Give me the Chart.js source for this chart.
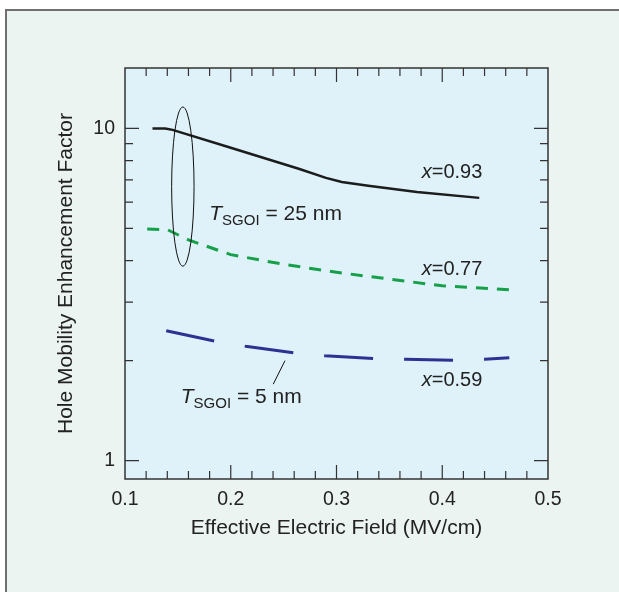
<!DOCTYPE html>
<html lang="en">
<head>
    <meta charset="UTF-8">
    <title>Hole Mobility Enhancement Factor</title>
    <script src="https://cdn.jsdelivr.net/npm/chart.js"></script>
    <style>
        body {
            margin: 0;
            background-color: #ffffff;
        }
        canvas {
            display: block;
        }
    </style>
</head>
<body>
    <canvas id="chartCanvas" width="619" height="592"></canvas>

    <script>
        // x = 0.93, T_SGOI = 25 nm
        const field093 = [0.126, 0.138, 0.145, 0.2, 0.265, 0.29, 0.305, 0.33, 0.376, 0.435];
        const factor093 = [10, 10, 9.9, 8.75, 7.55, 7.1, 6.9, 6.72, 6.44, 6.18];
        // x = 0.77
        const field077 = [0.121, 0.14, 0.16, 0.2, 0.25, 0.3, 0.35, 0.4, 0.47];
        const factor077 = [4.98, 4.96, 4.62, 4.17, 3.9, 3.69, 3.52, 3.36, 3.26];
        // x = 0.59, T_SGOI = 5 nm
        const field059 = [0.139, 0.185, 0.214, 0.26, 0.289, 0.3355, 0.365, 0.411, 0.44, 0.4634];
        const factor059 = [2.46, 2.29, 2.21, 2.11, 2.07, 2.03, 2.02, 2.007, 2.02, 2.04];

        const xTicks = [0.1, 0.2, 0.3, 0.4, 0.5];
        const yTicks = [1, 10];
        const yMinorTicks = [2, 3, 4, 5, 6, 7, 8, 9];

        const font = '"Liberation Sans", Arial, Helvetica, sans-serif';
        const ink = '#222222';

        function toPoints(xs, ys) {
            return xs.map((x, i) => ({ x: x, y: ys[i] }));
        }

        // frame, backgrounds, axis ticks and in-plot labels
        const decorations = {
            id: 'decorations',
            beforeDraw(chart) {
                const ctx = chart.ctx;
                const a = chart.chartArea;
                ctx.save();
                ctx.fillStyle = '#ffffff';
                ctx.fillRect(0, 0, chart.width, chart.height);
                ctx.fillStyle = '#ebf4f0';
                ctx.fillRect(5, 9, chart.width, chart.height);
                ctx.strokeStyle = '#707070';
                ctx.lineWidth = 2;
                ctx.beginPath();
                ctx.moveTo(6, chart.height + 5);
                ctx.lineTo(6, 10);
                ctx.lineTo(chart.width + 5, 10);
                ctx.stroke();
                ctx.fillStyle = '#dff1f9';
                ctx.fillRect(a.left, a.top, a.right - a.left, a.bottom - a.top);
                ctx.restore();
            },
            afterDatasetsDraw(chart) {
                const ctx = chart.ctx;
                const a = chart.chartArea;
                const xs = chart.scales.x;
                const ys = chart.scales.y;
                ctx.save();

                // ellipse round the 25 nm curves
                const ex = xs.getPixelForValue(0.1547);
                const eTop = ys.getPixelForValue(11.6);
                const eBot = ys.getPixelForValue(3.85);
                const erx = xs.getPixelForValue(0.1547 + 0.0106) - ex;
                ctx.strokeStyle = '#111111';
                ctx.lineWidth = 1;
                ctx.beginPath();
                ctx.ellipse(ex, (eTop + eBot) / 2, erx, (eBot - eTop) / 2, 0, 0, Math.PI * 2);
                ctx.stroke();

                // leader line to the 5 nm curve
                ctx.beginPath();
                ctx.moveTo(xs.getPixelForValue(0.2513), ys.getPixelForValue(2.0));
                ctx.lineTo(xs.getPixelForValue(0.2402), ys.getPixelForValue(1.70));
                ctx.stroke();

                // labels
                ctx.fillStyle = ink;
                ctx.textBaseline = 'alphabetic';
                function xLabel(xv, yv, text) {
                    let px = xs.getPixelForValue(xv);
                    const py = ys.getPixelForValue(yv);
                    ctx.font = 'italic 20px ' + font;
                    ctx.fillText('x', px, py);
                    px += ctx.measureText('x').width;
                    ctx.font = '20px ' + font;
                    ctx.fillText(text, px, py);
                }
                xLabel(0.3806, 7.07, '=0.93');
                xLabel(0.3806, 3.61, '=0.77');
                xLabel(0.3806, 1.675, '=0.59');

                function tLabel(xv, yv, text) {
                    let px = xs.getPixelForValue(xv);
                    const py = ys.getPixelForValue(yv);
                    ctx.font = 'italic 21px ' + font;
                    ctx.fillText('T', px, py);
                    px += ctx.measureText('T').width;
                    ctx.font = '15px ' + font;
                    ctx.fillText('SGOI', px, py + 5);
                    px += ctx.measureText('SGOI').width;
                    ctx.font = '21px ' + font;
                    ctx.fillText(text, px, py);
                }
                tLabel(0.1797, 5.29, ' = 25 nm');
                tLabel(0.1527, 1.488, ' = 5 nm');

                // plot border
                ctx.strokeStyle = '#333333';
                ctx.lineWidth = 1.5;
                ctx.strokeRect(a.left, a.top, a.right - a.left, a.bottom - a.top);

                // inward tick marks on all four sides
                ctx.lineWidth = 1.2;
                ctx.beginPath();
                for (let i = 1; i < 20; i++) {
                    const v = 0.1 + i * 0.02;
                    const px = xs.getPixelForValue(v);
                    const len = (i % 5 === 0) ? 14 : 8;
                    ctx.moveTo(px, a.bottom);
                    ctx.lineTo(px, a.bottom - len);
                    ctx.moveTo(px, a.top);
                    ctx.lineTo(px, a.top + len);
                }
                yTicks.forEach(v => {
                    const py = ys.getPixelForValue(v);
                    ctx.moveTo(a.left, py);
                    ctx.lineTo(a.left + 14, py);
                    ctx.moveTo(a.right, py);
                    ctx.lineTo(a.right - 14, py);
                });
                yMinorTicks.forEach(v => {
                    const py = ys.getPixelForValue(v);
                    ctx.moveTo(a.left, py);
                    ctx.lineTo(a.left + 8, py);
                    ctx.moveTo(a.right, py);
                    ctx.lineTo(a.right - 8, py);
                });
                ctx.stroke();
                ctx.restore();
            }
        };

        new Chart(document.getElementById('chartCanvas'), {
            type: 'scatter',
            data: {
                datasets: [
                    {
                        label: 'x=0.93',
                        data: toPoints(field093, factor093),
                        showLine: true,
                        borderColor: '#1c1c1c',
                        borderWidth: 2.5,
                        pointRadius: 0,
                        tension: 0
                    },
                    {
                        label: 'x=0.77',
                        data: toPoints(field077, factor077),
                        showLine: true,
                        borderColor: '#16a04a',
                        borderWidth: 3,
                        borderDash: [12, 9],
                        pointRadius: 0,
                        tension: 0
                    },
                    {
                        label: 'x=0.59',
                        data: toPoints(field059, factor059),
                        showLine: true,
                        borderColor: '#2e3192',
                        borderWidth: 3,
                        borderDash: [49, 31],
                        pointRadius: 0,
                        tension: 0
                    }
                ]
            },
            options: {
                responsive: false,
                animation: false,
                devicePixelRatio: 1,
                layout: { padding: { left: 50, top: 68, right: 71, bottom: 47 } },
                plugins: {
                    legend: { display: false },
                    tooltip: { enabled: false }
                },
                scales: {
                    x: {
                        type: 'linear',
                        min: 0.1,
                        max: 0.5,
                        afterBuildTicks: s => { s.ticks = xTicks.map(v => ({ value: v })); },
                        afterFit: s => { s.height = 66; s.paddingLeft = 0; s.paddingRight = 0; },
                        grid: { display: false, drawTicks: false },
                        border: { display: false },
                        ticks: {
                            padding: 9,
                            color: ink,
                            font: { family: font, size: 19.5 },
                            maxRotation: 0,
                            autoSkip: false,
                            callback: v => v.toFixed(1)
                        },
                        title: {
                            display: true,
                            text: 'Effective Electric Field (MV/cm)',
                            color: ink,
                            font: { family: font, size: 21 }
                        }
                    },
                    y: {
                        type: 'logarithmic',
                        min: 0.881,
                        max: 15.2,
                        afterBuildTicks: s => { s.ticks = yTicks.map(v => ({ value: v })); },
                        afterFit: s => { s.width = 75; s.paddingTop = 0; s.paddingBottom = 0; },
                        grid: { display: false, drawTicks: false },
                        border: { display: false },
                        ticks: {
                            padding: 10,
                            color: ink,
                            font: { family: font, size: 19.5 },
                            autoSkip: false,
                            callback: v => String(v)
                        },
                        title: {
                            display: true,
                            text: 'Hole Mobility Enhancement Factor',
                            color: ink,
                            font: { family: font, size: 21 }
                        }
                    }
                }
            },
            plugins: [decorations]
        });
    </script>
</body>
</html>
